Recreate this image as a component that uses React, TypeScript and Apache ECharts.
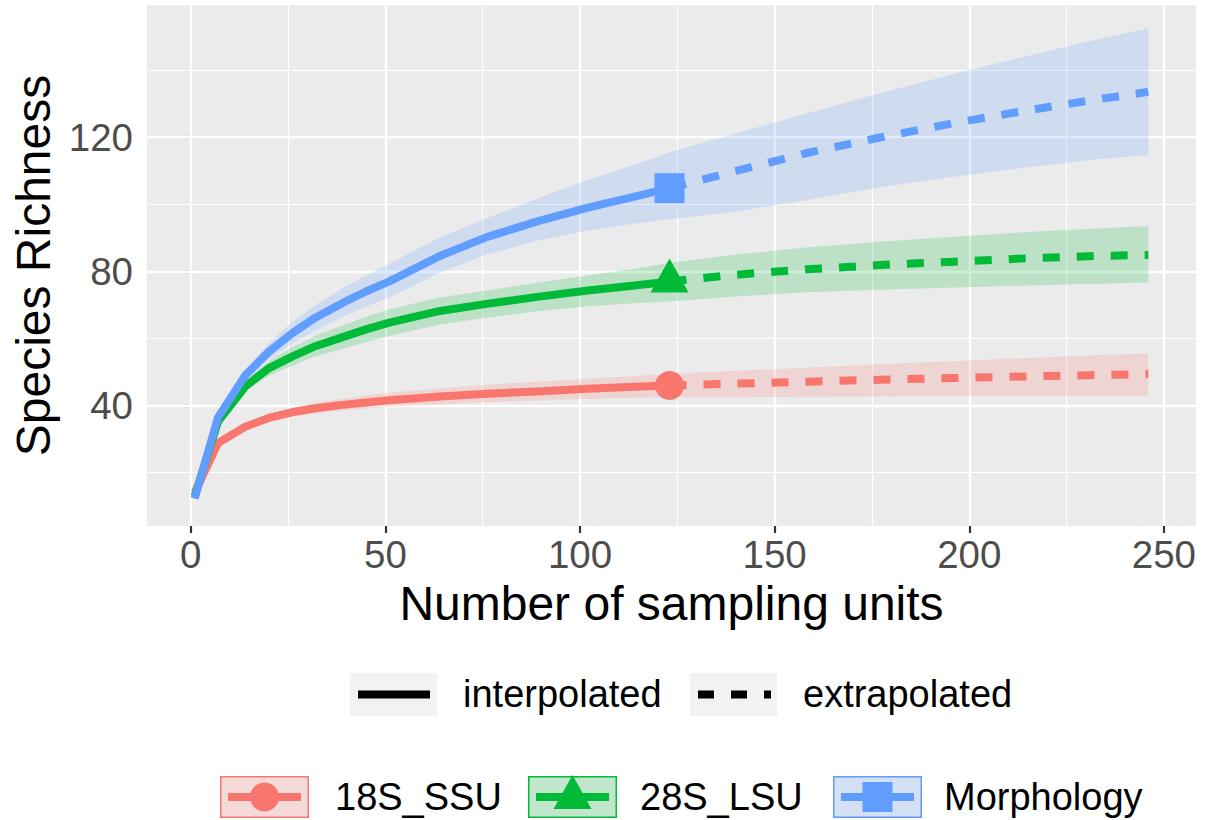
import React, { useEffect, useRef } from "react";
import * as echarts from "echarts";

// ---- data ----
const tInterp = [1, 7, 14, 20, 26, 32, 39, 45, 51, 64, 76, 89, 102, 114, 123];
const tExtrap = [123, 139, 158, 177, 196, 215, 233, 246];

const ssuMeanI = [14, 28.8, 33.7, 36.3, 38, 39.2, 40.2, 40.9, 41.6, 42.7, 43.5, 44.2, 45, 45.6, 46];
const ssuLoI = [13.7, 28.2, 32.9, 35.3, 36.7, 37.7, 38.5, 39.1, 39.6, 40.4, 41, 41.5, 42, 42.3, 42.5];
const ssuHiI = [14.3, 29.4, 34.5, 37.3, 39.3, 40.8, 42, 43, 43.8, 45.1, 46.2, 47.1, 48, 48.8, 49.4];
const ssuMeanE = [46, 46.5, 47.1, 47.7, 48.2, 48.7, 49.1, 49.4];
const ssuLoE = [42.5, 42.5, 42.6, 42.7, 42.8, 42.8, 42.8, 42.8];
const ssuHiE = [49.4, 50.3, 51.3, 52.3, 53.2, 54.2, 55, 55.5];

const lsuMeanI = [13, 35.2, 45.7, 51.1, 54.6, 57.7, 60.4, 62.7, 64.7, 68.2, 70.3, 72.4, 74.3, 75.8, 77];
const lsuLoI = [12.6, 34.4, 44.2, 48.9, 51.9, 54.6, 56.9, 58.9, 60.7, 64.2, 66.2, 68.1, 69.6, 70.5, 71];
const lsuHiI = [13.4, 36, 47.2, 53.3, 57.3, 60.8, 63.9, 66.5, 68.7, 72.2, 74.3, 76.6, 78.8, 80.8, 82.5];
const lsuMeanE = [77, 78.9, 80.6, 81.9, 82.9, 83.9, 84.6, 84.9];
const lsuLoE = [71, 72.4, 73.8, 74.5, 75.2, 75.8, 76.3, 76.7];
const lsuHiE = [82.5, 84.9, 87.1, 88.8, 90.3, 91.7, 92.8, 93.5];

const morMeanI = [12.3, 36.5, 49, 56, 61.5, 66.2, 70.6, 74, 77, 84.6, 90.2, 94.9, 99, 102.3, 104.8];
const morLoI = [11.8, 35.5, 47.5, 53.7, 58.5, 62.4, 66.5, 69.5, 72.2, 79.6, 85, 89.1, 92.2, 94.3, 95.5];
const morHiI = [12.8, 37.5, 50.5, 58.5, 64.8, 70, 75, 78.7, 82.3, 90.1, 95.8, 101.7, 107.2, 111.8, 115.5];
const morMeanE = [104.8, 109.6, 115.2, 119.9, 124.2, 128, 131.3, 133.5];
const morLoE = [95.5, 97.6, 101.2, 105.1, 108.2, 111, 113.4, 114.7];
const morHiE = [115.5, 120.8, 127, 133.1, 138.8, 144.2, 149.2, 152.4];

const groupNames = ["18S_SSU", "28S_LSU", "Morphology"];
const groupColors = ["#F8766D", "#00BA38", "#619CFF"];
const groupFills = ["rgba(248,118,109,0.2)", "rgba(0,186,56,0.2)", "rgba(97,156,255,0.2)"];

const xTicks = [0, 50, 100, 150, 200, 250];
const xMinor = [25, 75, 125, 175, 225];
const yTicks = [40, 80, 120];
const yMinor = [20, 60, 100, 140];

const FONT = "'Liberation Sans', Arial, Helvetica, sans-serif";

export default function App() {
  const ref = useRef<HTMLDivElement>(null);

  useEffect(() => {
    document.body.style.margin = "0";
    const chart = echarts.init(ref.current!, null, { renderer: "svg" });

    const groups = [
      { mI: ssuMeanI, loI: ssuLoI, hiI: ssuHiI, mE: ssuMeanE, loE: ssuLoE, hiE: ssuHiE, symbol: "circle", size: 29, offset: [0, 0] },
      { mI: lsuMeanI, loI: lsuLoI, hiI: lsuHiI, mE: lsuMeanE, loE: lsuLoE, hiE: lsuHiE, symbol: "triangle", size: [38, 34], offset: [0, -6] },
      { mI: morMeanI, loI: morLoI, hiI: morHiI, mE: morMeanE, loE: morLoE, hiE: morHiE, symbol: "rect", size: 30, offset: [0, 0] },
    ];

    const tAll = tInterp.concat(tExtrap.slice(1));
    const series: any[] = [];

    // grid lines (through the axis scales via markLine)
    series.push({
      type: "line",
      data: [[0, 40]],
      symbol: "none",
      showSymbol: false,
      lineStyle: { opacity: 0, width: 0 },
      silent: true,
      z: 1,
      markLine: {
        silent: true,
        z: 1,
        symbol: ["none", "none"],
        label: { show: false },
        emphasis: { disabled: true },
        data: [
          ...xMinor.map((v) => ({ xAxis: v, lineStyle: { color: "#FFFFFF", width: 1.2, type: "solid" } })),
          ...yMinor.map((v) => ({ yAxis: v, lineStyle: { color: "#FFFFFF", width: 1.2, type: "solid" } })),
          ...xTicks.map((v) => ({ xAxis: v, lineStyle: { color: "#FFFFFF", width: 2.4, type: "solid" } })),
          ...yTicks.map((v) => ({ yAxis: v, lineStyle: { color: "#FFFFFF", width: 2.4, type: "solid" } })),
        ],
      },
    });

    // ribbons (custom polygons through the axis scales)
    groups.forEach((g, k) => {
      const lo = g.loI.concat(g.loE.slice(1));
      const hi = g.hiI.concat(g.hiE.slice(1));
      series.push({
        type: "custom",
        coordinateSystem: "cartesian2d",
        data: [[tAll[0], lo[0]]],
        silent: true,
        z: 10,
        renderItem: (params: any, api: any) => {
          const upper = tAll.map((t, i) => api.coord([t, hi[i]]));
          const lower = tAll.map((t, i) => api.coord([t, lo[i]])).reverse();
          return {
            type: "polygon",
            shape: { points: upper.concat(lower) },
            style: { fill: groupFills[k], stroke: "none" },
          };
        },
      });
    });

    // lines
    groups.forEach((g, k) => {
      series.push({
        type: "line",
        name: groupNames[k],
        data: tInterp.map((t, i) => [t, g.mI[i]]),
        symbol: "none",
        lineStyle: { color: groupColors[k], width: 8, cap: "butt", join: "round" },
        silent: true,
        z: 11,
      });
      series.push({
        type: "line",
        data: tExtrap.map((t, i) => [t, g.mE[i]]),
        symbol: "none",
        lineStyle: { color: groupColors[k], width: 8, type: [17, 17], cap: "butt", join: "round" },
        silent: true,
        z: 11,
      });
    });

    // reference-sample markers
    groups.forEach((g, k) => {
      series.push({
        type: "scatter",
        data: [[tInterp[tInterp.length - 1], g.mI[g.mI.length - 1]]],
        symbol: g.symbol,
        symbolSize: g.size,
        symbolOffset: g.offset,
        itemStyle: { color: groupColors[k], opacity: 1 },
        silent: true,
        z: 12,
      });
    });

    // legends (drawn)
    const graphic: any[] = [];
    const lt = (t: string, x: number, y: number) => ({
      type: "text",
      x,
      y,
      style: { text: t, font: `38px ${FONT}`, fill: "#000000", align: "left", verticalAlign: "middle" },
    });
    graphic.push({ type: "rect", shape: { x: 350, y: 673, width: 87, height: 43 }, style: { fill: "#F2F2F2" } });
    graphic.push({ type: "line", shape: { x1: 358, y1: 694.5, x2: 430, y2: 694.5 }, style: { stroke: "#000", lineWidth: 8 } });
    graphic.push(lt("interpolated", 463, 694));
    graphic.push({ type: "rect", shape: { x: 690, y: 673, width: 87, height: 43 }, style: { fill: "#F2F2F2" } });
    graphic.push({
      type: "line",
      shape: { x1: 698, y1: 694.5, x2: 771, y2: 694.5 },
      style: { stroke: "#000", lineWidth: 8, lineDash: [16, 17] },
    });
    graphic.push(lt("extrapolated", 803, 694));

    const keyX = [220, 528, 833];
    const textX = [335, 640, 944];
    const cy = 797;
    groups.forEach((g, k) => {
      const x0 = keyX[k];
      const w = 89;
      const cx = x0 + w / 2;
      graphic.push({ type: "rect", shape: { x: x0, y: 776, width: w, height: 42 }, style: { fill: "#F2F2F2" } });
      graphic.push({
        type: "rect",
        shape: { x: x0 + 0.75, y: 776.75, width: w - 1.5, height: 40.5 },
        style: { fill: groupFills[k], stroke: groupColors[k], lineWidth: 1.5 },
      });
      graphic.push({
        type: "line",
        shape: { x1: x0 + 8, y1: cy, x2: x0 + w - 8, y2: cy },
        style: { stroke: groupColors[k], lineWidth: 8 },
      });
      if (k === 0) {
        graphic.push({ type: "circle", shape: { cx, cy, r: 14.5 }, style: { fill: groupColors[k] } });
      } else if (k === 1) {
        graphic.push({
          type: "polygon",
          shape: { points: [[cx, cy - 22], [cx - 19, cy + 12], [cx + 19, cy + 12]] },
          style: { fill: groupColors[k] },
        });
      } else {
        graphic.push({ type: "rect", shape: { x: cx - 15, y: cy - 15, width: 30, height: 30 }, style: { fill: groupColors[k] } });
      }
      graphic.push(lt(groupNames[k], textX[k], cy));
    });

    const option: any = {
      animation: false,
      backgroundColor: "#FFFFFF",
      textStyle: { fontFamily: FONT },
      grid: {
        left: 147,
        top: 5,
        width: 1049,
        height: 521,
        show: true,
        backgroundColor: "#EBEBEB",
        borderWidth: 0,
        containLabel: false,
      },
      xAxis: {
        type: "value",
        min: -11.25,
        max: 258.25,
        splitLine: { show: false },
        axisLine: { show: false },
        axisTick: { show: true, customValues: xTicks, length: 7, lineStyle: { color: "#333333", width: 2.2 } },
        axisLabel: { customValues: xTicks, color: "#4D4D4D", fontSize: 38.5, fontFamily: FONT, margin: 9 },
        name: "Number of sampling units",
        nameLocation: "middle",
        nameGap: 53,
        nameTextStyle: { color: "#000000", fontSize: 48, fontFamily: FONT, lineHeight: 48 },
      },
      yAxis: {
        type: "value",
        min: 4.1,
        max: 159.4,
        splitLine: { show: false },
        axisLine: { show: false },
        axisTick: { show: true, customValues: yTicks, length: 7, lineStyle: { color: "#333333", width: 2.2 } },
        axisLabel: { customValues: yTicks, color: "#4D4D4D", fontSize: 38.5, fontFamily: FONT, margin: 14 },
        name: "Species Richness",
        nameLocation: "middle",
        nameGap: 88,
        nameTextStyle: { color: "#000000", fontSize: 48, fontFamily: FONT, lineHeight: 48 },
      },
      series,
      graphic,
    };

    chart.setOption(option);
    return () => chart.dispose();
  }, []);

  return <div ref={ref} style={{ width: 1210, height: 820 }} />;
}
